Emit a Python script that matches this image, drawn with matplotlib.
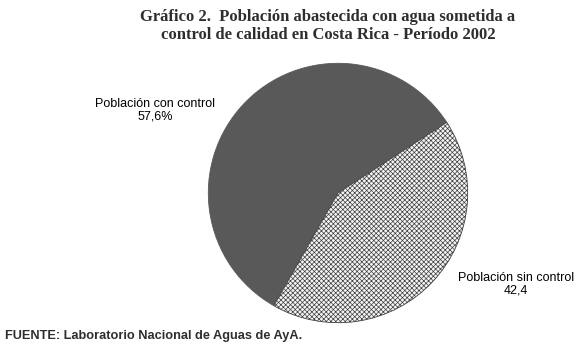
import matplotlib.pyplot as plt

labels = ["Población con control\n57,6%", "Población sin control\n42,4"]
values = [57.6, 42.4]
title = "Gráfico 2.  Población abastecida con agua sometida a\ncontrol de calidad en Costa Rica - Período 2002"
source = "FUENTE: Laboratorio Nacional de Aguas de AyA."

plt.rcParams["hatch.color"] = "#bdbdbd"
plt.rcParams["hatch.linewidth"] = 0.5

fig = plt.figure(figsize=(5.87, 3.46), dpi=100)
ax = fig.add_axes([207 / 587, 1 - 324 / 346, 262 / 587, 262 / 346])
wedges, _ = ax.pie(values, startangle=33, counterclock=True,
                   colors=["#595959", "#f4f4f4"], radius=1,
                   wedgeprops=dict(linewidth=0.6, edgecolor="#404040"))
wedges[1].set_hatch("xxxxxxx")
wedges[0].set_edgecolor("#595959")
ax.set_xlim(-1.01, 1.01)
ax.set_ylim(-1.01, 1.01)
ax.set_aspect("equal")
ax.axis("off")

fig.text(155 / 587, 1 - 110 / 346, labels[0], ha="center", va="center",
         fontsize=9, family="Liberation Sans", linespacing=1.1)
fig.text(516 / 587, 1 - 284 / 346, labels[1], ha="center", va="center",
         fontsize=9, family="Liberation Sans", linespacing=1.1)
fig.text(328 / 587, 1 - 26 / 346, title, ha="center", va="center",
         fontsize=12, family="Liberation Serif", fontweight="bold",
         color="#2e2e2e", linespacing=1.2)
fig.text(5 / 587, 1 - 336 / 346, source, ha="left", va="center",
         fontsize=9.2, family="Liberation Sans", fontweight="bold",
         color="#2e2e2e")

fig.savefig("out.png", dpi=100)
